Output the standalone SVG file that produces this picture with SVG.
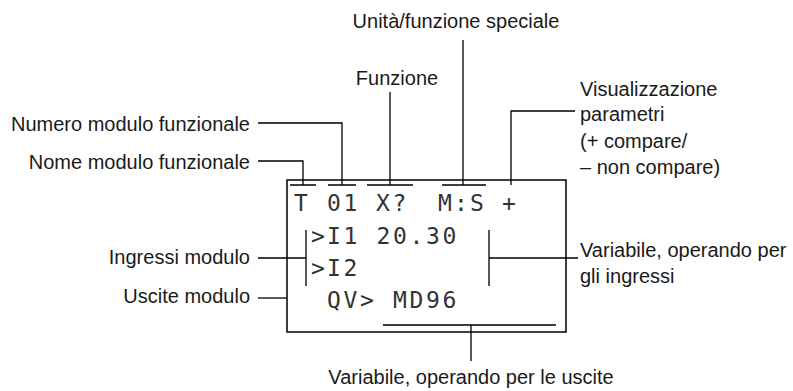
<svg xmlns="http://www.w3.org/2000/svg" width="793" height="391" viewBox="0 0 793 391">
<style>
.lbl{font-family:"Liberation Sans",Arial,sans-serif;font-size:20px;fill:#1a1a1a}
.lcd{font-family:"DejaVu Sans Mono","Liberation Mono",monospace;font-size:23px;fill:#333}
.ln{stroke:#000;stroke-width:1.3;fill:none}
</style>
<rect width="793" height="391" fill="#fff"/>
<g id="display">
<rect x="287" y="180" width="279" height="152" fill="none" stroke="#000" stroke-width="1.5"/>
<text class="lcd" x="294 327 343.5 376 392.5 438 454 470 502" y="211">T01X?M:S+</text>
<text class="lcd" x="311 327 343.5 376.5 393 409.5 426 442.5" y="244">&gt;I120.30</text>
<text class="lcd" x="311 327 343.5" y="276">&gt;I2</text>
<text class="lcd" x="327 343.5 360 393 409.5 426 442.5" y="308">QV&gt;MD96</text>
</g>
<g id="labels">
<text id="numero" class="lbl" x="250" y="131" text-anchor="end">Numero modulo funzionale</text>
<text id="nome" class="lbl" x="250" y="169" text-anchor="end">Nome modulo funzionale</text>
<text id="ingressi" class="lbl" x="250" y="264" text-anchor="end">Ingressi modulo</text>
<text id="uscite" class="lbl" x="250" y="303" text-anchor="end">Uscite modulo</text>
<text id="unita" class="lbl" x="456" y="28" text-anchor="middle">Unità/funzione speciale</text>
<text id="funzione" class="lbl" x="397" y="85" text-anchor="middle">Funzione</text>
<text id="visual" class="lbl"><tspan x="580" y="96">Visualizzazione</tspan><tspan x="580" y="121">parametri</tspan><tspan x="580" y="148">(+ compare/</tspan><tspan x="580" y="174">– non compare)</tspan></text>
<text id="var-in" class="lbl"><tspan x="580" y="257">Variabile, operando per</tspan><tspan x="580" y="283">gli ingressi</tspan></text>
<text id="var-out" class="lbl" x="471" y="384" text-anchor="middle">Variabile, operando per le uscite</text>
</g>
<g id="connectors" class="ln">
<path d="M290 185H316M328 185H356M367 185H413M442 185H486"/>
<path d="M258 161H303V185"/>
<path d="M258 123H342V185"/>
<path d="M390 92V185"/>
<path d="M463 40V185"/>
<path d="M575 111H511V185"/>
<path d="M258 258H306M306 230V286"/>
<path d="M258 298H287"/>
<path d="M489 230V286M489 258H578"/>
<path d="M383 325H556M471 325V361"/>
</g>
</svg>
